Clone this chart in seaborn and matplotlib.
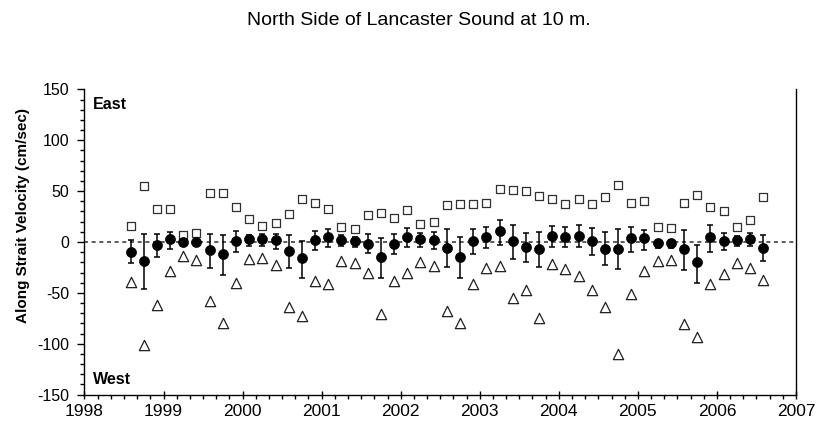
import matplotlib
matplotlib.use("Agg")
import matplotlib.pyplot as plt
import seaborn as sns
import pandas as pd
from matplotlib.ticker import MultipleLocator, FormatStrFormatter

# Bimonthly records, 10 m depth, north side of Lancaster Sound
months = [
    "1998-08", "1998-10", "1998-12", "1999-02", "1999-04", "1999-06",
    "1999-08", "1999-10", "1999-12", "2000-02", "2000-04", "2000-06",
    "2000-08", "2000-10", "2000-12", "2001-02", "2001-04", "2001-06",
    "2001-08", "2001-10", "2001-12", "2002-02", "2002-04", "2002-06",
    "2002-08", "2002-10", "2002-12", "2003-02", "2003-04", "2003-06",
    "2003-08", "2003-10", "2003-12", "2004-02", "2004-04", "2004-06",
    "2004-08", "2004-10", "2004-12", "2005-02", "2005-04", "2005-06",
    "2005-08", "2005-10", "2005-12", "2006-02", "2006-04", "2006-06",
    "2006-08",
]

# mean along-strait velocity (cm/sec)
mean_vel = [
    -9.5, -19, -3, 3, 0, 0,
    -8, -12, 1, 3, 3, 1.5,
    -9, -15.5, 2, 4.5, 2, 0.5,
    -1.5, -14.5, -2, 4.5, 3, 2,
    -5.5, -14.5, 0.5, 5, 11, 1,
    -5, -7, 5.5, 4.5, 5.5, 0.5,
    -7, -7, 3.5, 3.5, -1, -1,
    -7, -20, 5, 1, 2, 3,
    -5.5,
]

# lower / upper ends of the error bars
err_low = [
    -21, -46, -15, -7, -4, -4,
    -26, -32, -10, -4, -4, -7,
    -26, -35, -8, -4.5, -4, -5,
    -11, -35, -12, -5, -5, -7,
    -25, -35, -12, -6, -3, -17,
    -20, -25, -5, -5, -5, -13,
    -22.5, -27, -9.5, -8, -5.5, -5.5,
    -28, -40, -9.5, -8, -3.5, -3.5,
    -19,
]
err_high = [
    1.5, 8, 8, 10, 6, 6,
    8, 7, 11, 7, 7.5, 8,
    7, 0.5, 11, 12.5, 7, 5,
    8, 3.5, 8, 14, 9, 10,
    12.5, 4.5, 12.5, 15, 22, 17,
    9, 10, 16, 15, 17, 13.5,
    10, 13, 15, 12, 2, 2,
    12, -3, 17, 9, 6, 8.5,
    7,
]

# maximum eastward and maximum westward velocity
max_vel = [
    16, 55, 32, 32, 7, 9,
    48, 48, 34, 23, 16, 19,
    27.5, 42.5, 38, 32.5, 14.5, 12.5,
    26.5, 28.5, 23.5, 31.5, 18, 20,
    36, 37, 37, 38, 52.5, 51.5,
    50.5, 45.5, 42, 37, 42, 37,
    44, 56, 38, 40.5, 15, 14,
    38, 46.5, 34, 30, 15, 22,
    44,
]
min_vel = [
    -39, -101, -62, -29, -14, -18,
    -58, -80, -40, -17, -16, -23,
    -64, -73, -38.5, -41, -18.5, -21,
    -30, -71, -38, -30, -20, -23.5,
    -68, -80, -41, -26, -23.5, -55,
    -47.5, -75, -22, -27, -33, -47.5,
    -64, -110, -51, -29, -19, -18,
    -80.5, -93, -41, -31, -21, -26,
    -37.5,
]

df = pd.DataFrame({
    "month": months,
    "mean": mean_vel,
    "low": err_low,
    "high": err_high,
    "max": max_vel,
    "min": min_vel,
})
stamp = pd.to_datetime(df["month"])
df["year"] = stamp.dt.year + (stamp.dt.month - 1) / 12.0

sns.set_style("ticks")
plt.rcParams["font.family"] = ["Liberation Sans", "DejaVu Sans"]
plt.rcParams["text.color"] = "black"
plt.rcParams["axes.labelcolor"] = "black"
plt.rcParams["xtick.color"] = "black"
plt.rcParams["ytick.color"] = "black"
plt.rcParams["axes.unicode_minus"] = False

fig = plt.figure(figsize=(8.17, 4.29), dpi=100)
ax = fig.add_axes([0.1034, 0.0804, 0.8709, 0.7110])

# zero reference line
ax.axhline(0, color="#404040", lw=1.2, ls=(0, (2.4, 2.2)), zorder=1)

# error bars around the mean
ax.errorbar(
    df["year"], df["mean"],
    yerr=[df["mean"] - df["low"], df["high"] - df["mean"]],
    fmt="none", ecolor="black", elinewidth=1.1,
    capsize=2.5, capthick=1.1, zorder=2,
)

sns.scatterplot(data=df, x="year", y="max", marker="s", s=40,
                color="white", edgecolor="#303030", linewidth=0.9,
                ax=ax, zorder=3, legend=False)
sns.scatterplot(data=df, x="year", y="min", marker="^", s=55,
                color="white", edgecolor="#202020", linewidth=0.9,
                ax=ax, zorder=3, legend=False)
sns.scatterplot(data=df, x="year", y="mean", marker="o", s=52,
                color="black", edgecolor="black", linewidth=0.5,
                ax=ax, zorder=4, legend=False)

ax.set_xlim(1998, 2007)
ax.set_ylim(-150, 150)
ax.xaxis.set_major_locator(MultipleLocator(1))
ax.xaxis.set_minor_locator(MultipleLocator(1 / 6))
ax.yaxis.set_major_locator(MultipleLocator(50))
ax.yaxis.set_minor_locator(MultipleLocator(10))
ax.xaxis.set_major_formatter(FormatStrFormatter("%d"))

ax.tick_params(axis="x", which="major", direction="inout", length=6,
               width=1, colors="black", labelsize=12.5, pad=4)
ax.tick_params(axis="x", which="minor", direction="out", length=3,
               width=1, colors="black")
ax.tick_params(axis="y", which="major", direction="out", length=5,
               width=1, colors="black", labelsize=11.5, pad=6)
ax.tick_params(axis="y", which="minor", direction="out", length=3,
               width=1, colors="black")

for side in ("left", "bottom", "right"):
    ax.spines[side].set_visible(True)
    ax.spines[side].set_color("black")
    ax.spines[side].set_linewidth(1.0)
ax.spines["top"].set_visible(False)

ax.set_xlabel("")
ax.set_ylabel("")

ax.text(0.012, 0.952, "East", transform=ax.transAxes, ha="left",
        va="center", fontsize=11.5, fontweight="bold", color="black")
ax.text(0.012, 0.048, "West", transform=ax.transAxes, ha="left",
        va="center", fontsize=11.5, fontweight="bold", color="black")

fig.text(0.513, 0.953, "North Side of Lancaster Sound at 10 m.",
         ha="center", va="center", fontsize=14, color="black")
fig.text(0.028, 0.498, "Along Strait Velocity (cm/sec)", rotation=90,
         ha="center", va="center", fontsize=11, fontweight="bold",
         color="black")

fig.savefig("out.png", dpi=100, facecolor="white")
